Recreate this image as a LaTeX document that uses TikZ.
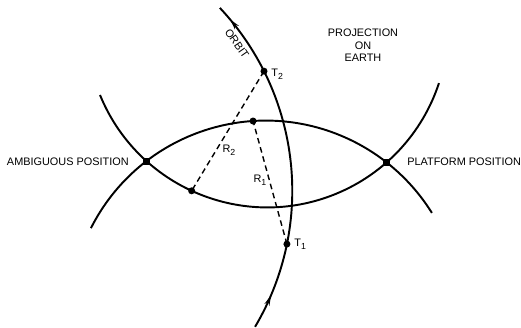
\documentclass[tikz,border=0pt]{standalone}
\usepackage{fontspec}
\setmainfont{Liberation Sans}
\usetikzlibrary{arrows.meta,decorations.markings,calc}
\newcommand\mysub[1]{\raisebox{-0.5ex}{\fontsize{5}{5}\selectfont #1}}
\begin{document}
\begin{tikzpicture}[x=0.02cm,y=0.02cm,
  curve/.style={line width=1.1pt},
  rangeline/.style={line width=0.8pt, dash pattern=on 3.2pt off 2.2pt},
  dot/.style={circle,fill,inner sep=0pt,minimum size=4pt},
  fixdot/.style={rectangle,fill,inner sep=0pt,minimum size=4pt},
  lbl/.style={inner sep=0pt,font=\fontsize{6.2}{7.1}\selectfont},
  orbitline/.style={curve, postaction={decorate}, decoration={markings,
     mark=at position 0.103 with {\arrow{Stealth[length=6pt,width=3pt]}},
     mark=at position 0.955 with {\arrow{Stealth[length=6pt,width=3pt]}}}}
]
\useasboundingbox (0,0) rectangle (521,328);
% centres of the circles
\coordinate (O) at (25.1,137.2);
\coordinate (C1) at (265.7,11.6);
\coordinate (C2) at (267.3,301.3);
% curves
\draw[curve] ($(C1)+(153.2:195.8)$) arc[start angle=153.2, end angle=31.9, radius=195.8];
\draw[curve] ($(C2)+(202.2:180.7)$) arc[start angle=202.2, end angle=341.8, radius=180.7];
\draw[orbitline] ($(O)+(-30.6:267.2)$) arc[start angle=-30.6, end angle=43.2, radius=267.2];
% points
\node[fixdot] (A) at ($(C1)+(127.5:195.8)$) {};
\node[fixdot] (P) at ($(C1)+(51.9:195.8)$) {};
\node[dot] (U) at ($(C1)+(93.7:195.8)$) {};
\node[dot] (L) at ($(C2)+(245.25:180.7)$) {};
\node[dot] (T2) at ($(O)+(26.6:267.2)$) {};
\node[dot] (T1) at ($(O)+(-11.5:267.2)$) {};
% range lines
\draw[rangeline] (T2.center) -- (L.center);
\draw[rangeline] (T1.center) -- (U.center);
% labels
\node[lbl,anchor=east] (amb) at (129,166) {AMBIGUOUS POSITION};
\node[lbl,anchor=west] (plat) at (407,166) {PLATFORM POSITION};
\node[lbl,align=center] (proj) at (363,282.5) {PROJECTION\\ON\\EARTH};
\node[lbl,rotate=-55.2] (orb) at ($(O)+(34.8:258)$) {ORBIT};
\node[lbl,anchor=west] (t2l) at (271,254) {T\mysub{2}};
\node[lbl,anchor=west] (t1l) at (294,84) {T\mysub{1}};
\node[lbl] (r2l) at (229,178) {R\mysub{2}};
\node[lbl] (r1l) at (260,148) {R\mysub{1}};
\end{tikzpicture}
\end{document}
